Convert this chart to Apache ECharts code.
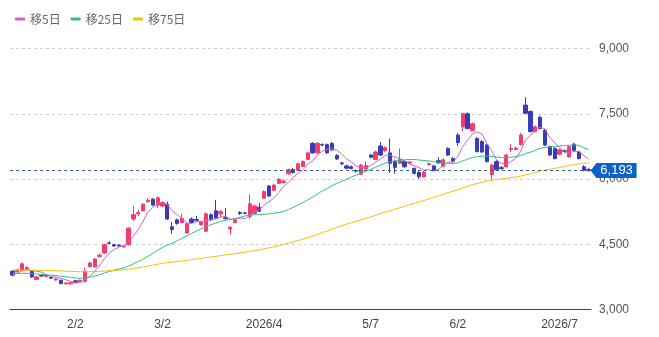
<!DOCTYPE html>
<html>
<head>
<meta charset="utf-8">
<script src="https://cdn.jsdelivr.net/npm/echarts@6/dist/echarts.min.js"></script>
<style>html,body{margin:0;padding:0;background:#fff}#c{width:659px;height:337px}</style>
</head>
<body>
<div id="c"></div>
<script>
// Trading days (categories)
const dates = [
'2026/01/14','2026/01/15','2026/01/16','2026/01/19','2026/01/20','2026/01/21','2026/01/22','2026/01/23','2026/01/26','2026/01/27','2026/01/28','2026/01/29','2026/01/30',
'2026/02/02','2026/02/03','2026/02/04','2026/02/05','2026/02/06','2026/02/09','2026/02/10','2026/02/12','2026/02/13','2026/02/16','2026/02/17','2026/02/18','2026/02/19','2026/02/20','2026/02/24','2026/02/25','2026/02/26','2026/02/27',
'2026/03/02','2026/03/03','2026/03/04','2026/03/05','2026/03/06','2026/03/09','2026/03/10','2026/03/11','2026/03/12','2026/03/13','2026/03/16','2026/03/17','2026/03/18','2026/03/19','2026/03/23','2026/03/24','2026/03/25','2026/03/26','2026/03/27','2026/03/30','2026/03/31',
'2026/04/01','2026/04/02','2026/04/03','2026/04/06','2026/04/07','2026/04/08','2026/04/09','2026/04/10','2026/04/13','2026/04/14','2026/04/15','2026/04/16','2026/04/17','2026/04/20','2026/04/21','2026/04/22','2026/04/23','2026/04/24','2026/04/27','2026/04/28','2026/04/30',
'2026/05/01','2026/05/07','2026/05/08','2026/05/11','2026/05/12','2026/05/13','2026/05/14','2026/05/15','2026/05/18','2026/05/19','2026/05/20','2026/05/21','2026/05/22','2026/05/25','2026/05/26','2026/05/27','2026/05/28','2026/05/29',
'2026/06/01','2026/06/02','2026/06/03','2026/06/04','2026/06/05','2026/06/08','2026/06/09','2026/06/10','2026/06/11','2026/06/12','2026/06/15','2026/06/16','2026/06/17','2026/06/18','2026/06/19','2026/06/22','2026/06/23','2026/06/24','2026/06/25','2026/06/26','2026/06/29','2026/06/30',
'2026/07/01','2026/07/02','2026/07/03','2026/07/06','2026/07/07','2026/07/08','2026/07/09'
];

const opens = [
3880,3870,3900,3930,3880,3690,3790,3760,3740,3680,3670,3590,3590,3660,3640,3650,3990,3980,4220,4300,
4530,4490,4480,4440,4490,5080,5200,5270,5480,5535,5400,5380,5420,4900,5060,5000,4760,5080,5070,4950,
4800,5180,5270,5200,5110,4850,5000,5230,5220,5140,5210,5350,5560,5840,5740,5900,5920,6120,6220,6200,
6290,6450,6820,6600,6790,6790,6820,6540,6370,6300,6280,6190,6110,6230,6550,6450,6760,6650,6600,6410,
6360,6400,6370,6240,6150,6050,6330,6300,6420,6290,6700,6470,7010,7200,7500,7110,6930,6860,6780,6100,
6400,6260,6280,6680,6680,6790,7700,7550,7090,7420,7120,6740,6700,6570,6650,6510,6800,6620,6280,6220
];
const closes = [
3790,3910,4050,3960,3750,3750,3770,3785,3720,3700,3595,3610,3615,3615,3670,3880,4070,4160,4250,4490,
4520,4460,4460,4460,4870,5180,5230,5420,5510,5400,5570,5460,5080,4840,4980,5090,4970,5000,5050,5010,
5200,5060,5100,5250,5090,4890,5060,5210,5210,5430,5380,5260,5710,5610,5860,5990,5950,6210,6150,6350,
6400,6600,6600,6820,6780,6600,6670,6460,6350,6250,6240,6180,6320,6310,6500,6620,6550,6720,6360,6270,
6450,6280,6390,6130,6050,6160,6350,6200,6370,6440,6550,6400,6840,7500,7160,7270,6630,6620,6400,6320,
6210,6240,6550,6700,6710,7010,7510,7090,7200,7160,6780,6550,6470,6670,6630,6740,6660,6470,6200,6193
];
const highs = [
3910,3940,4080,4000,3900,3770,3810,3810,3760,3720,3690,3630,3630,3680,3690,3960,4100,4180,4290,4510,
4570,4510,4500,4480,4890,5380,5290,5440,5560,5560,5600,5490,5480,5010,5090,5200,4990,5120,5150,5040,
5230,5210,5520,5290,5330,4920,5090,5260,5250,5650,5410,5450,5740,5860,5890,6020,5990,6240,6250,6380,
6430,6630,6850,6850,6820,6820,6850,6570,6400,6330,6310,6220,6350,6400,6580,6650,6850,6750,6930,6450,
6700,6430,6420,6270,6180,6190,6380,6330,6500,6470,6730,6500,7060,7520,7530,7300,6960,6890,6810,6350,
6430,6300,6580,6800,6740,7060,7880,7580,7230,7450,7150,6770,6730,6700,6680,6770,6830,6650,6320,6260
];
const lows = [
3760,3850,3880,3910,3730,3670,3750,3740,3700,3660,3580,3575,3580,3600,3620,3620,3960,3960,4200,4280,
4500,4440,4440,4420,4470,5030,5150,5250,5460,5380,5330,5350,5060,4740,4950,4980,4740,4980,5020,4930,
4780,5040,5080,5120,5060,4720,4980,5170,5190,5080,5190,5240,5540,5590,5720,5880,5900,6100,6130,6180,
6270,6430,6580,6580,6750,6580,6640,6440,6320,6230,6220,6150,6090,6210,6480,6430,6530,6630,6140,6120,
6340,6260,6350,6100,6000,6030,6310,6180,6350,6270,6530,6380,6760,7100,7140,7090,6610,6600,6380,5990,
6190,6210,6260,6620,6660,6770,7490,7070,7070,7140,6760,6530,6450,6550,6610,6490,6640,6450,6180,6170
];
// Estimated closes before the visible window (needed for the moving averages)
const priorCloses = [
3920,3950,3980,3960,3930,3900,3890,3920,3960,3990,4010,3980,3950,3930,3910,3940,3970,3990,3960,3920,
3890,3870,3900,3930,3960,3980,3950,3920,3900,3910,3940,3970,3990,3970,3940,3910,3890,3910,3940,3960,
3980,3950,3920,3930,3950,3970,3940,3910,3930,3950,
3980,4000,3970,3950,3990,4010,3980,3940,3920,3950,3970,3940,3910,3930,
3700,3580,3520,3500,3540,3600,
3720,3790,3820,3860
];
const tickDates = ['2026/02/02','2026/03/02','2026/04/01','2026/05/07','2026/06/02','2026/07/01'];
const tickTexts = ['2/2','3/2','2026/4','5/7','6/2','2026/7'];
const yTicks = [3000, 4500, 6000, 7500, 9000];
const lastPrice = 6193;

function movingAvg(n) {
  const full = priorCloses.concat(closes);
  const off = priorCloses.length;
  return closes.map((_, i) => {
    let s = 0;
    for (let k = off + i - n + 1; k <= off + i; k++) s += full[k];
    return +(s / n).toFixed(1);
  });
}
const candleData = closes.map((c, i) => [opens[i], c, lows[i], highs[i]]);
const fmt = v => Number(v).toLocaleString('en-US');

const chart = echarts.init(document.getElementById('c'));
chart.setOption({
  animation: false,
  textStyle: { fontFamily: "'Liberation Sans', Arial, sans-serif" },
  legend: {
    data: ['移5日', '移25日', '移75日'],
    left: 10, top: 8,
    icon: 'roundRect', itemWidth: 10, itemHeight: 3, itemGap: 10, itemTextGap: 6,
    textStyle: { color: '#666', fontSize: 12, fontFamily: "'Noto Sans CJK JP', sans-serif" }
  },
  grid: { left: 10, right: 68, top: 48.5, bottom: 27.5 },
  xAxis: {
    type: 'category', data: dates, boundaryGap: true,
    axisLine: { lineStyle: { color: '#444', width: 1 } },
    axisTick: { show: false },
    splitLine: { show: false },
    axisLabel: {
      interval: (idx, val) => tickDates.indexOf(val) >= 0,
      formatter: val => { const k = tickDates.indexOf(val); return k >= 0 ? tickTexts[k] : ''; },
      color: '#444', fontSize: 12, margin: 9
    }
  },
  yAxis: {
    type: 'value', position: 'right', min: yTicks[0], max: yTicks[yTicks.length - 1], interval: 1500,
    axisLine: { show: false }, axisTick: { show: false },
    splitLine: { lineStyle: { color: '#d0d0d0', type: [3, 3] } },
    axisLabel: { formatter: fmt, color: '#555', fontSize: 12, margin: 8 }
  },
  series: [
    {
      name: 'price', type: 'candlestick', data: candleData, barWidth: '78%',
      itemStyle: { color: '#f23d6d', color0: '#3b3bb5', borderColor: '#f23d6d', borderColor0: '#3b3bb5', borderWidth: 1 },
      markLine: {
        silent: true, symbol: 'none',
        lineStyle: { color: '#3d5f95', type: [3, 3], width: 1 },
        label: { show: false },
        data: [{ yAxis: lastPrice }]
      },
      markPoint: {
        silent: true,
        symbol: 'path://M0,8 L6,0 L47,0 L47,16 L6,16 Z',
        symbolSize: [46, 15], symbolKeepAspect: false,
        symbolOffset: [25, 0],
        itemStyle: { color: '#0d62c9' },
        label: { show: true, color: '#fff', fontSize: 13, offset: [3, 0], formatter: () => fmt(lastPrice) },
        data: [{ coord: [dates[dates.length - 1], lastPrice] }]
      }
    },
    { name: '移5日', type: 'line', data: movingAvg(5), showSymbol: false, symbol: 'none', lineStyle: { width: 1, color: '#d060d8' }, itemStyle: { color: '#d060d8' } },
    { name: '移25日', type: 'line', data: movingAvg(25), showSymbol: false, symbol: 'none', lineStyle: { width: 1, color: '#2ec27a' }, itemStyle: { color: '#2ec27a' } },
    { name: '移75日', type: 'line', data: movingAvg(75), showSymbol: false, symbol: 'none', lineStyle: { width: 1, color: '#f2c200' }, itemStyle: { color: '#f2c200' } }
  ]
});
</script>
</body>
</html>
